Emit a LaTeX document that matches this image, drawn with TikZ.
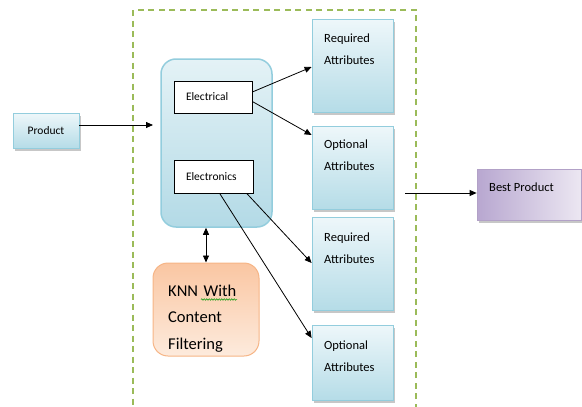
\documentclass[tikz,border=0pt]{standalone}
\usepackage{fontspec}
\setmainfont{Carlito}
\usetikzlibrary{arrows.meta,shadows,decorations.pathmorphing}
\definecolor{boxtop}{HTML}{EEF7FA}
\definecolor{boxbot}{HTML}{B5DCE7}
\definecolor{boxborder}{HTML}{93CDDD}
\definecolor{bigtop}{HTML}{E4F2F6}
\definecolor{bigbot}{HTML}{B3DAE6}
\definecolor{knntop}{HTML}{FAC6A2}
\definecolor{knnbot}{HTML}{FDEBDD}
\definecolor{knnborder}{HTML}{F6B586}
\definecolor{bestleft}{HTML}{B8A7D0}
\definecolor{bestright}{HTML}{ECE7F2}
\definecolor{bestborder}{HTML}{B2A1C7}
\definecolor{framegreen}{HTML}{9BBB59}
\begin{document}
\begin{tikzpicture}[x=1pt,y=-1pt,
  shadowed/.style={drop shadow={shadow xshift=2pt,shadow yshift=-2.5pt,fill=black!40,opacity=0.55}},
  attr/.style={draw=boxborder,line width=0.8pt,top color=boxtop,bottom color=boxbot,
    minimum width=81pt,inner sep=0pt,shadowed},
  attrtext/.style={anchor=base west,text width=70pt,align=left,inner sep=0pt,
    font=\fontsize{12.5}{22}\selectfont},
  catbox/.style={draw=black,line width=0.7pt,fill=white,inner xsep=12pt,inner ysep=0pt,
    align=left,font=\fontsize{11.5}{14}\selectfont},
  arr/.style={-{Triangle[length=7pt,width=6pt]},line width=0.8pt},
  darr/.style={{Triangle[length=7pt,width=6pt]}-{Triangle[length=7pt,width=6pt]},line width=0.8pt}
]
\useasboundingbox (0,0) rectangle (582,407);
% dashed frame
\draw[framegreen,line width=1.4pt,dash pattern=on 6pt off 4.5pt] (133,10) rectangle (416,420);

% product
\node[attr,minimum width=66pt,minimum height=35pt,font=\fontsize{11.5}{14}\selectfont] (prod) at (46,130.5) {Product};

% big category box
\node[draw=boxborder,line width=1.5pt,rounded corners=15pt,top color=bigtop,bottom color=bigbot,
  minimum width=111pt,minimum height=168pt] (big) at (216.5,143) {};
\node[catbox,minimum width=78pt,minimum height=32pt,text width=54pt] (elec1) at (213,97) {Electrical};
\node[catbox,minimum width=79pt,minimum height=33pt,text width=55pt] (elec2) at (213.5,176.5) {Electronics};

% KNN box
\node[draw=knnborder,line width=1pt,rounded corners=15pt,top color=knntop,bottom color=knnbot,
  minimum width=106pt,minimum height=93pt] (knn) at (206,309.5) {};
\node[anchor=base west,text width=90pt,align=left,inner sep=0pt,
  font=\fontsize{16.5}{26.5}\selectfont] (knntext) at (168,296) {KNN With\\Content\\Filtering};
\draw[green!60!black,line width=0.5pt,decorate,decoration={snake,amplitude=0.8pt,segment length=2.5pt}] (201,299.5) -- (237,299.5);

% attribute boxes
\node[attr,minimum height=93pt] (r1) at (352.5,65.5) {};
\node[attr,minimum height=83pt] (o1) at (352.5,167.5) {};
\node[attr,minimum height=93pt] (r2) at (352.5,263.5) {};
\node[attr,minimum height=75pt] (o2) at (352.5,362.5) {};
\node[attrtext] (r1t) at (324,42) {Required\\Attributes};
\node[attrtext] (o1t) at (324,148) {Optional\\Attributes};
\node[attrtext] (r2t) at (324,241) {Required\\Attributes};
\node[attrtext] (o2t) at (324,349) {Optional\\Attributes};

% best product
\node[draw=bestborder,line width=0.8pt,left color=bestleft,right color=bestright,
  minimum width=104pt,minimum height=51pt,shadowed] (best) at (529,194.5) {};
\node[anchor=base west,inner sep=0pt,font=\fontsize{12.5}{15}\selectfont] (bestt) at (489,191.5) {Best Product};

% connectors
\coordinate (pa) at (153,125);
\draw[arr] (prod.east |- pa) -- (pa);
\draw[arr] ([yshift=5pt]elec1.east) -- ([yshift=-1.5pt]r1.west);
\draw[arr] ([yshift=-4.5pt]elec1.east) -- ([yshift=32.5pt]o1.west);
\draw[arr] ([xshift=73pt]elec2.south west) -- ([yshift=0.5pt]r2.west);
\draw[arr] ([xshift=46pt]elec2.south west) -- ([yshift=24.5pt]o2.west);
\draw[darr] (knn.north) -- (knn.north |- big.south);
\coordinate (bs) at (405,193);
\draw[arr] (bs) -- (best.west |- bs);
\end{tikzpicture}
\end{document}
